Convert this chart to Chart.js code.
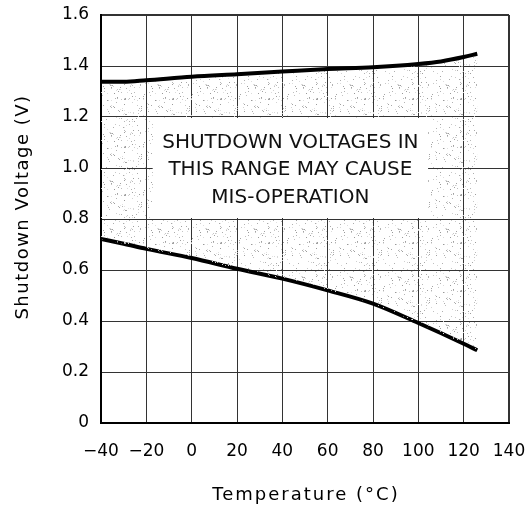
<!DOCTYPE html>
<html>
<head>
<meta charset="utf-8">
<script src="https://cdn.jsdelivr.net/npm/chart.js@4/dist/chart.umd.min.js"></script>
<style>
  html, body { margin: 0; padding: 0; background: #fff; }
  #wrap { width: 526px; height: 510px; }
</style>
</head>
<body>
<div id="wrap"><canvas id="myChart" width="526" height="510"></canvas></div>
<script>
'use strict';
//////////////// data

let upperTemps = [-40, -30, -20, 0, 20, 40, 60, 80, 100, 110, 120, 126];
let upperVolts = [1.338, 1.338, 1.344, 1.358, 1.368, 1.378, 1.388, 1.395, 1.408, 1.418, 1.435, 1.448];

let lowerTemps = [-40, -30, -20, 0, 20, 40, 60, 80, 100, 120, 126];
let lowerVolts = [0.722, 0.703, 0.683, 0.647, 0.605, 0.566, 0.52, 0.468, 0.392, 0.311, 0.285];

let xTickLabels = ['\u221240', '\u221220', '0', '20', '40', '60', '80', '100', '120', '140'];
let yTickLabels = ['0', '0.2', '0.4', '0.6', '0.8', '1.0', '1.2', '1.4', '1.6'];

let xTitle = 'Temperature (\u00b0C)';
let yTitle = 'Shutdown Voltage (V)';
let noteLines = ['SHUTDOWN VOLTAGES IN', 'THIS RANGE MAY CAUSE', 'MIS-OPERATION'];

let fontFamily = '"DejaVu Sans", sans-serif';

/////////////// stipple pattern for the shaded band
function stipple () {
  let size = 48;
  let c = document.createElement('canvas');
  c.width = size;
  c.height = size;
  let g = c.getContext('2d');
  let h = 2166136261;
  function next () {
    h = Math.imul(h ^ (h >>> 15), 2246822507);
    h = Math.imul(h ^ (h >>> 13), 3266489909);
    h ^= h >>> 16;
    h = (h + 0x9e3779b9) | 0;
    return (h >>> 0) / 4294967296;
  }
  for (let i = 0; i < 140; i++) {
    let px = Math.floor(next() * size);
    let py = Math.floor(next() * size);
    let shade = Math.floor(150 + next() * 80);
    g.fillStyle = 'rgb(' + shade + ',' + shade + ',' + shade + ')';
    g.fillRect(px, py, 1, 1);
  }
  return g.createPattern(c, 'repeat');
}

function toPoints (xs, ys) {
  return xs.map((x, i) => ({ x: x, y: ys[i] }));
}

/////////////// white note box + axis titles
let notePlugin = {
  id: 'noteBox',
  afterDatasetsDraw (chart) {
    let ctx = chart.ctx;
    let xs = chart.scales.x;
    let ys = chart.scales.y;
    let left = xs.getPixelForValue(-17.2);
    let right = xs.getPixelForValue(104.3);
    let top = ys.getPixelForValue(1.2) + 1;
    let bottom = ys.getPixelForValue(0.8) - 1;
    ctx.save();
    ctx.fillStyle = '#fff';
    ctx.fillRect(left, top, right - left, bottom - top);
    ctx.fillStyle = '#111';
    ctx.font = '20px ' + fontFamily;
    ctx.textAlign = 'center';
    ctx.textBaseline = 'middle';
    let cx = (left + right) / 2;
    let mid = (top + bottom) / 2 + 2;
    for (let i = 0; i < noteLines.length; i++) {
      ctx.fillText(noteLines[i], cx, mid + (i - 1) * 27.5);
    }
    ctx.restore();
  },
  afterDraw (chart) {
    let ctx = chart.ctx;
    let area = chart.chartArea;
    ctx.save();
    ctx.fillStyle = '#000';
    ctx.font = '18px ' + fontFamily;
    ctx.textAlign = 'center';
    ctx.textBaseline = 'middle';
    ctx.letterSpacing = '2px';
    ctx.fillText(xTitle, (area.left + area.right) / 2 + 1, 495);
    ctx.letterSpacing = '1.5px';
    ctx.translate(23, 207);
    ctx.rotate(-Math.PI / 2);
    ctx.fillText(yTitle, 0, 0);
    ctx.restore();
    ctx.letterSpacing = '0px';
  }
};

/////////////// chart
let ctx = document.getElementById('myChart').getContext('2d');
let myChart = new Chart(ctx, {
  type: 'line',
  data: {
    datasets: [
      {
        label: 'upper',
        data: toPoints(upperTemps, upperVolts),
        borderColor: '#000',
        borderWidth: 4,
        pointRadius: 0,
        cubicInterpolationMode: 'monotone',
        fill: '+1',
        backgroundColor: stipple()
      },
      {
        label: 'lower',
        data: toPoints(lowerTemps, lowerVolts),
        borderColor: '#000',
        borderWidth: 4,
        pointRadius: 0,
        cubicInterpolationMode: 'monotone',
        fill: false
      }
    ]
  },
  options: {
    responsive: false,
    animation: false,
    layout: { padding: { top: 15, right: 17, left: 0, bottom: 0 } },
    plugins: {
      legend: { display: false },
      tooltip: { enabled: false }
    },
    scales: {
      x: {
        type: 'linear',
        min: -40,
        max: 140,
        afterBuildTicks: (s) => { s.ticks = xTickLabels.map((t, i) => ({ value: -40 + i * 20 })); },
        afterFit: (s) => {
          s.height = 87;
          s.paddingLeft = 0;
          s.paddingRight = 0;
        },
        ticks: {
          color: '#000',
          font: { family: fontFamily, size: 17 },
          padding: 18,
          maxRotation: 0,
          callback: (v, i) => xTickLabels[i]
        },
        grid: {
          color: '#333',
          lineWidth: (c) => (c.tick && c.tick.value === 140 ? 2 : 1),
          drawTicks: false
        },
        border: { color: '#000', width: 2 }
      },
      y: {
        type: 'linear',
        min: 0,
        max: 1.6,
        afterBuildTicks: (s) => { s.ticks = yTickLabels.map((t, i) => ({ value: i * 0.2 })); },
        afterFit: (s) => {
          s.width = 101;
          s.paddingTop = 0;
          s.paddingBottom = 0;
        },
        ticks: {
          color: '#000',
          font: { family: fontFamily, size: 17 },
          padding: 12,
          callback: (v, i) => yTickLabels[i]
        },
        grid: {
          color: '#333',
          lineWidth: (c) => (c.tick && Math.abs(c.tick.value - 1.6) < 1e-6 ? 2 : 1),
          drawTicks: false
        },
        border: { color: '#000', width: 2 }
      }
    }
  },
  plugins: [notePlugin]
});
</script>
</body>
</html>
